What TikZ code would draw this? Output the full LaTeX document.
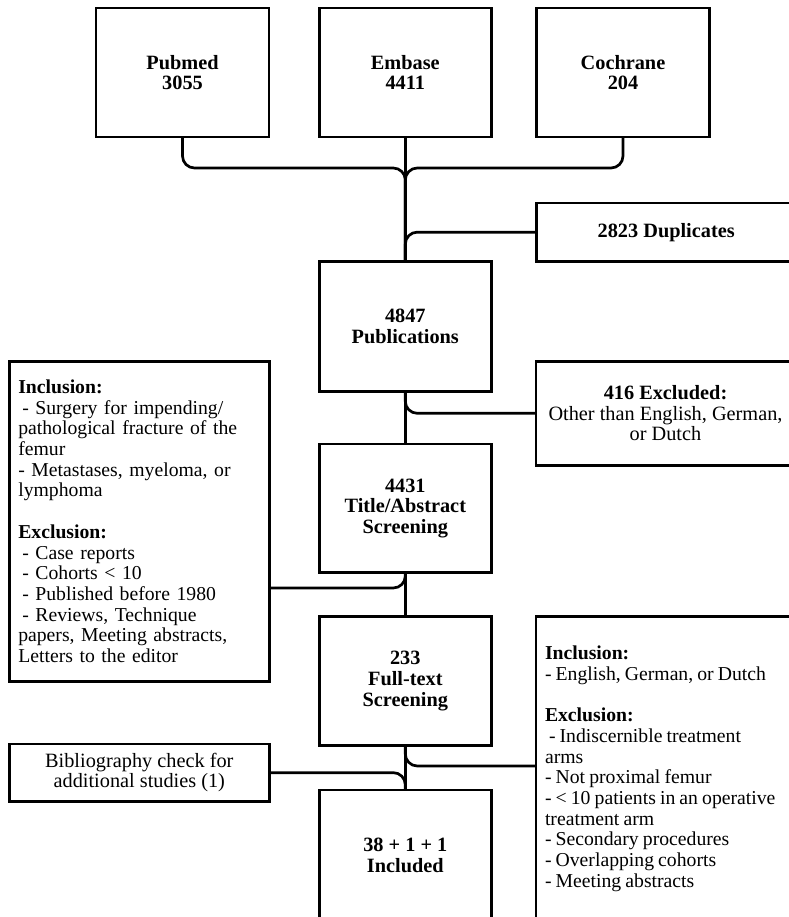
\documentclass[tikz,border=0pt]{standalone}
\usepackage{fontspec}
\setmainfont{Liberation Serif}
\hyphenpenalty=10000
\exhyphenpenalty=10000
\begin{document}
\begin{tikzpicture}[x=1pt,y=-1pt,
  box/.style={draw, line width=2.7pt, anchor=north west, inner sep=0pt, outer sep=0pt,
    font=\fontsize{20.3}{20.7}\selectfont, align=center},
  titlebox/.style={box, font=\fontsize{20.3}{20.7}\selectfont\bfseries},
  listbox/.style={box, align=left, inner xsep=9pt, font=\fontsize{19.7}{20.7}\selectfont},
  conn/.style={line width=2.7pt, rounded corners=12pt}]
\useasboundingbox (0,0) rectangle (788,917);

% source boxes
\node[titlebox, minimum width=173pt, minimum height=129pt] (pub) at (96,8) {Pubmed\\3055};
\node[titlebox, minimum width=172pt, minimum height=129pt] (emb) at (319.3,8) {Embase\\4411};
\node[titlebox, minimum width=172.6pt, minimum height=129pt] (coc) at (536.7,8) {Cochrane\\204};

% side boxes (right)
\node[titlebox, minimum width=259pt, minimum height=58.3pt] (dup) at (536.7,203) {2823 Duplicates};
\node[box, minimum width=259pt, minimum height=104pt] (excl) at (536,361.3)
  {\textbf{416 Excluded:}\\Other than English, German,\\or Dutch};
\node[listbox, text width=280pt, minimum height=304pt] (rbox) at (536,616.7)
  {\spaceskip=4.1pt\relax
   \textbf{Inclusion:}\\
   - English, German, or Dutch\\[20.7pt]
   \textbf{Exclusion:}\\
   \hspace*{4pt}- Indiscernible treatment\\
   arms\\
   - Not proximal femur\\
   - < 10 patients in an operative\\
   treatment arm\\
   - Secondary procedures\\
   - Overlapping cohorts\\
   - Meeting abstracts};

% side boxes (left)
\node[listbox, text width=242pt, minimum height=320pt] (left) at (9.3,361.3)
  {\textbf{Inclusion:}\\
   \hspace*{4pt}- Surgery for impending/\\
   pathological fracture of the\\
   femur\\
   - Metastases, myeloma, or\\
   lymphoma\\[20.7pt]
   \textbf{Exclusion:}\\
   \hspace*{4pt}- Case reports\\
   \hspace*{4pt}- Cohorts < 10\\
   \hspace*{4pt}- Published before 1980\\
   \hspace*{4pt}- Reviews, Technique\\
   papers, Meeting abstracts,\\
   Letters to the editor};
\node[box, minimum width=260pt, minimum height=57.3pt] (bib) at (9.3,744)
  {Bibliography check for\\additional studies (1)};

% main column
\node[titlebox, minimum width=172pt, minimum height=130pt] (publ) at (319.3,261.3) {4847\\Publications};
\node[titlebox, minimum width=172pt, minimum height=128.7pt] (tas) at (319.3,444) {4431\\Title/Abstract\\Screening};
\node[titlebox, minimum width=172pt, minimum height=128.7pt] (fts) at (319.3,616.7) {233\\Full-text\\Screening};
\node[titlebox, minimum width=172pt, minimum height=131pt] (inc) at (319.3,790) {38 + 1 + 1\\Included};

\coordinate (jt) at (405.3,168);

% connectors
\draw[conn] (pub.south) |- (jt) -- (publ.north);
\draw[conn] (coc.south) |- (jt) -- (publ.north);
\draw[conn] (emb.south) -- (publ.north);
\draw[conn] (dup.west) -| (publ.north);
\draw[conn] (publ.south) |- (excl.west);
\draw[conn] (publ.south) -- (tas.north);
\draw[conn] ([yshift=-66.7pt]left.east) -| (tas.south);
\draw[conn] (tas.south) -- (fts.north);
\draw[conn] (fts.south) |- ([yshift=2.7pt]rbox.west);
\draw[conn] (bib.east) -| (inc.north);
\draw[conn] (fts.south) -- (inc.north);
\end{tikzpicture}
\end{document}
